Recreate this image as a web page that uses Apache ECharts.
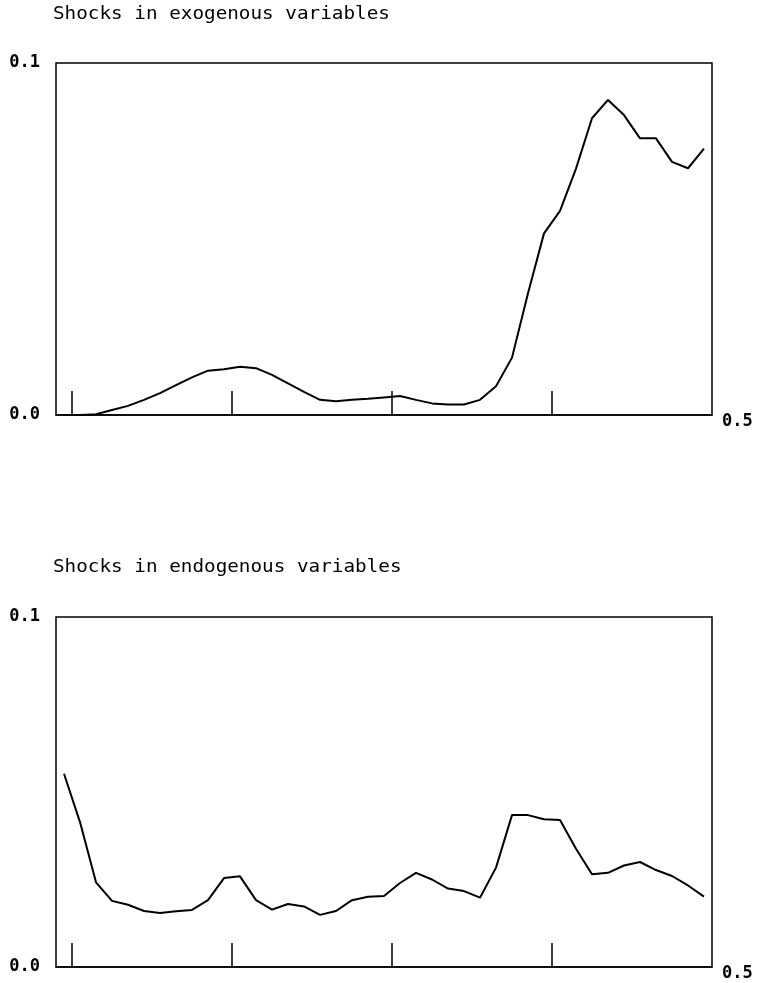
<!DOCTYPE html>
<html>
<head>
<meta charset="utf-8">
<script src="https://cdn.jsdelivr.net/npm/echarts@6/dist/echarts.min.js"></script>
<style>
html,body{margin:0;padding:0;background:#fff;}
#chart{width:760px;height:983px;}
</style>
</head>
<body>
<div id="chart"></div>
<script>
// ---- data ----
const titles = ['Shocks in exogenous variables', 'Shocks in endogenous variables'];
const yTickLabels = ['0.0', '0.1'];
const xEndLabel = '0.5';
const xTickPositions = [0.5, 10.5, 20.5, 30.5];

const exoValues = [0.0000, 0.0000, 0.0002, 0.0014, 0.0026, 0.0043, 0.0062, 0.0085, 0.0107, 0.0126,
  0.0130, 0.0137, 0.0133, 0.0114, 0.0090, 0.0066, 0.0043, 0.0039, 0.0043, 0.0046,
  0.0050, 0.0054, 0.0043, 0.0033, 0.0030, 0.0030, 0.0043, 0.0082, 0.0163, 0.0346,
  0.0516, 0.0580, 0.0700, 0.0843, 0.0895, 0.0852, 0.0786, 0.0786, 0.0719, 0.0701, 0.0757];

const endoValues = [0.0552, 0.0414, 0.0242, 0.0189, 0.0178, 0.0160, 0.0154, 0.0159, 0.0163, 0.0191,
  0.0254, 0.0259, 0.0191, 0.0164, 0.0180, 0.0173, 0.0149, 0.0160, 0.0191, 0.0201,
  0.0203, 0.0240, 0.0269, 0.0250, 0.0224, 0.0217, 0.0198, 0.0284, 0.0434, 0.0434,
  0.0422, 0.0420, 0.0338, 0.0265, 0.0269, 0.0290, 0.0300, 0.0277, 0.0260, 0.0233, 0.0201];

// ---- chart ----
const FONT = '"DejaVu Sans Mono", "Liberation Mono", monospace';
const grids = [
  {left: 56, top: 63, width: 656, height: 352},
  {left: 56, top: 617, width: 656, height: 350}
];
const titleY = [15, 568];

const chart = echarts.init(document.getElementById('chart'), null, {renderer: 'canvas'});

const option = {
  animation: false,
  backgroundColor: '#fff',
  grid: grids.map(g => Object.assign({show: true, borderColor: '#000', borderWidth: 1.5, backgroundColor: 'transparent'}, g)),
  graphic: titles.map((t, k) => ({
    type: 'text',
    x: 53,
    y: titleY[k],
    scaleX: 1.135,
    style: {text: t, font: '17px ' + FONT, fill: '#000', textAlign: 'left', textVerticalAlign: 'middle'}
  })),
  xAxis: grids.map((g, k) => ({
    type: 'value',
    gridIndex: k,
    min: -0.5,
    max: 40.5,
    name: xEndLabel,
    nameLocation: 'end',
    nameGap: 10,
    nameTextStyle: {fontFamily: FONT, fontSize: 17, fontWeight: 'bold', color: '#000', verticalAlign: 'top', lineHeight: 14},
    axisLine: {show: true, lineStyle: {color: '#000', width: 1.5}},
    axisTick: {show: true, inside: true, length: 24, customValues: xTickPositions, lineStyle: {color: '#000', width: 1.5}},
    axisLabel: {show: false},
    splitLine: {show: false}
  })),
  yAxis: grids.map((g, k) => ({
    type: 'value',
    gridIndex: k,
    min: 0,
    max: 0.1,
    interval: 0.1,
    axisLine: {show: false},
    axisTick: {show: false},
    splitLine: {show: false},
    axisLabel: {
      margin: 16,
      fontFamily: FONT, fontSize: 17, fontWeight: 'bold', color: '#000',
      formatter: v => yTickLabels[Math.round(v / 0.1)]
    }
  })),
  series: [exoValues, endoValues].map((vals, k) => ({
    type: 'line',
    xAxisIndex: k,
    yAxisIndex: k,
    data: vals.map((v, i) => [i, v]),
    showSymbol: false,
    lineStyle: {color: '#000', width: 2},
    z: 3
  }))
};
chart.setOption(option);
</script>
</body>
</html>
